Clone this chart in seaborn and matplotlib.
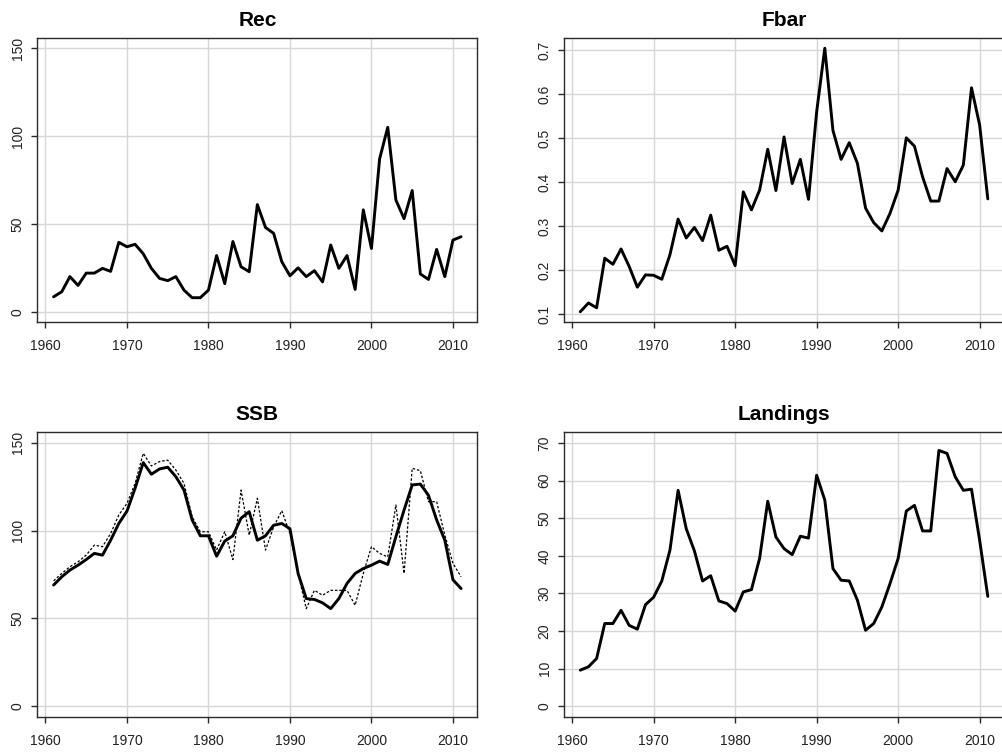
import numpy as np
import pandas as pd
import matplotlib
matplotlib.use("Agg")
import matplotlib.pyplot as plt
import seaborn as sns

years = list(range(1961, 2012))

rec = [8.5, 11.4, 20, 15, 22, 22, 24.7, 23, 39.5, 37, 38.4, 33, 24.7, 19, 17.7, 20, 12.3, 8, 8, 12.3,
       32, 16, 40, 25.6, 22.8, 61, 48, 44.6, 28.5, 20.5, 25, 20, 23.4, 17, 38, 24.7, 32, 12.7, 58, 36,
       87, 105, 63.6, 53, 69, 21.5, 18.4, 35.5, 20, 40.8, 42.7]

fbar = [0.105, 0.125, 0.114, 0.227, 0.213, 0.248, 0.208, 0.161, 0.189, 0.188, 0.179, 0.235, 0.316, 0.273,
        0.297, 0.267, 0.325, 0.245, 0.254, 0.210, 0.378, 0.337, 0.382, 0.475, 0.381, 0.503, 0.397, 0.452,
        0.361, 0.56, 0.705, 0.518, 0.452, 0.49, 0.443, 0.341, 0.308, 0.289, 0.329, 0.382, 0.501, 0.482,
        0.412, 0.357, 0.357, 0.431, 0.401, 0.439, 0.615, 0.53, 0.362]

ssb = [69, 73.7, 77.5, 80.3, 83.5, 87, 86, 94.5, 104, 111, 124, 138.6, 132, 135, 136, 130.6, 123, 106,
       97, 97, 85.4, 94, 97, 107, 110.7, 94.5, 97, 103, 104, 101, 75.6, 61.3, 60.8, 58.9, 55.6, 61.3,
       69.9, 75.6, 78.4, 80.3, 82.6, 80.7, 96.5, 111.6, 125.9, 126.4, 120, 106, 94.5, 72, 67]

ssb_alt = [71.4, 75.6, 79.4, 82.2, 86, 91.7, 90.8, 98.3, 108.8, 115.4, 126.8, 143.9, 136.7, 139.2, 140,
           134.4, 126.8, 107.8, 99.3, 99.3, 88.9, 99.3, 83.5, 123, 97.4, 118.3, 88.9, 102.1, 111.3, 98.3,
           75.6, 55.6, 66, 63.2, 66, 66, 66, 57.5, 75.6, 90.8, 87, 85, 114.5, 75.6, 135.4, 134, 116.4,
           116.4, 97.4, 81.3, 73.7]

landings = [9.6, 10.5, 12.7, 22, 22, 25.5, 21.5, 20.5, 27, 29, 33.3, 41.5, 57.4, 47.2, 41.3, 33.3, 34.7,
            28, 27.3, 25.3, 30.4, 31, 39.3, 54.5, 45, 41.9, 40.3, 45.2, 44.7, 61.4, 54.8, 36.6, 33.5,
            33.3, 28.2, 20.2, 22, 26.4, 32.6, 39.3, 51.9, 53.4, 46.6, 46.6, 68, 67.2, 61, 57.4, 57.7,
            44.1, 29.2]

titles = ["Rec", "Fbar", "SSB", "Landings"]
x_ticks = [1960, 1970, 1980, 1990, 2000, 2010]
y_ticks = {
    "Rec": [0, 50, 100, 150],
    "Fbar": [0.1, 0.2, 0.3, 0.4, 0.5, 0.6, 0.7],
    "SSB": [0, 50, 100, 150],
    "Landings": [0, 10, 20, 30, 40, 50, 60, 70],
}
y_labels = {
    "Rec": ["0", "50", "100", "150"],
    "Fbar": ["0.1", "0.2", "0.3", "0.4", "0.5", "0.6", "0.7"],
    "SSB": ["0", "50", "100", "150"],
    "Landings": ["0", "10", "20", "30", "40", "50", "60", "70"],
}
y_lims = {
    "Rec": (-6, 156),
    "Fbar": (0.081, 0.729),
    "SSB": (-6, 156),
    "Landings": (-2.85, 72.9),
}

df = pd.DataFrame({"year": years, "Rec": rec, "Fbar": fbar, "SSB": ssb,
                   "SSB_alt": ssb_alt, "Landings": landings})

sns.set_theme(style="white")
plt.rcParams["font.family"] = ["Liberation Sans", "DejaVu Sans"]

W, H = 1003, 754
fig = plt.figure(figsize=(W / 100, H / 100), dpi=100)

# panel boxes in pixels: left, top, right, bottom
boxes = {
    "Rec": (37.3, 37.7, 477.4, 322.3),
    "Fbar": (564.0, 37.7, 1004.1, 322.3),
    "SSB": (37.3, 432.0, 477.4, 717.0),
    "Landings": (564.0, 432.0, 1004.1, 717.0),
}

spine_col = "#2b2b2b"
grid_col = "#d6d6d6"

for name in titles:
    l, t, r, b = boxes[name]
    ax = fig.add_axes([l / W, 1 - b / H, (r - l) / W, (b - t) / H])
    ax.set_xlim(1959, 2013)
    ax.set_ylim(*y_lims[name])
    ax.set_xticks(x_ticks)
    ax.set_xticklabels([str(v) for v in x_ticks])
    ax.set_yticks(y_ticks[name])
    ax.set_yticklabels(y_labels[name], rotation=90, va="center")
    for v in x_ticks:
        ax.axvline(v, color=grid_col, lw=1.0, zorder=0)
    for v in y_ticks[name]:
        ax.axhline(v, color=grid_col, lw=1.0, zorder=0)
    if name == "SSB":
        sns.lineplot(data=df, x="year", y="SSB_alt", ax=ax, color="black", lw=0.9,
                     linestyle=(0, (2, 1.5)), zorder=2)
    sns.lineplot(data=df, x="year", y=name, ax=ax, color="black", lw=2.1, zorder=3)
    ax.set_xlabel("")
    ax.set_ylabel("")
    ax.set_title(name, fontsize=15, fontweight="bold", pad=8.5, color="black")
    for s in ax.spines.values():
        s.set_color(spine_col)
        s.set_linewidth(1.0)
        s.set_visible(True)
    ax.tick_params(axis="both", which="major", direction="out", length=4,
                   width=1.0, color=spine_col, labelsize=10, labelcolor="#222222",
                   bottom=True, left=True)
    ax.tick_params(axis="x", pad=8)
    ax.tick_params(axis="y", pad=5)
    ax.grid(False)

fig.savefig("out.png", dpi=100)
